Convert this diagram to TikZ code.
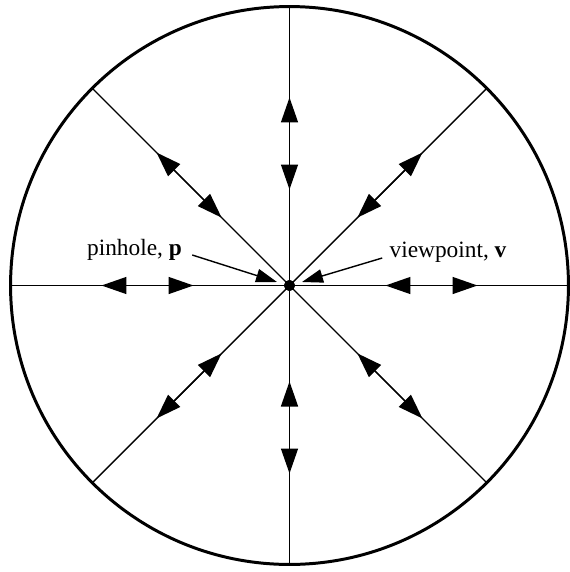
\documentclass[tikz,border=0pt]{standalone}
\usepackage{fontspec}
\setmainfont{Liberation Serif}
\usetikzlibrary{arrows.meta, calc}

\begin{document}
\begin{tikzpicture}[
    x=0.02cm, y=-0.02cm,
    %% Styles
    rim/.style={line width=1.7pt},
    ray/.style={line width=0.8pt},
    dbl/.style={{Triangle[length=0.5cm, width=0.34cm]}-{Triangle[length=0.5cm, width=0.34cm]}, line width=0.8pt},
    pointer/.style={-{Triangle[length=0.42cm, width=0.27cm]}, line width=0.8pt},
    dotnode/.style={circle, fill, inner sep=0pt, minimum size=0.22cm},
    lbl/.style={font=\fontsize{13.3}{16}\selectfont, inner sep=0pt}
  ]
  \useasboundingbox (0,0) rectangle (570,572);

  %% ── Centre and rim ──────────────────────────────────────
  \node[dotnode] (c) at (289.5,285.5) {};
  \draw[rim] (c.center) circle[radius=5.58cm];

  %% ── Rays with inward / outward arrows ───────────────────
  \foreach \a in {0,45,...,315}{
    \draw[ray] (c.center) -- ($(c.center)+(\a:279)$);
    \draw[dbl] ($(c.center)+(\a:96)$) -- ($(c.center)+(\a:188)$);
  }
  \node[dotnode] at (c.center) {};

  %% ── Labels ──────────────────────────────────────────────
  \node[lbl] (pin)  at (134.5,250) {pinhole, \textbf{p}};
  \node[lbl] (view) at (448,252)   {viewpoint, \textbf{v}};

  \draw[pointer] ([shift={(10,5)}]pin.east) -- ([shift={(-12.5,-3.5)}]c.center);
  \draw[pointer] ([shift={(-7,6)}]view.west) -- ([shift={(12.5,-3.5)}]c.center);
\end{tikzpicture}
\end{document}
